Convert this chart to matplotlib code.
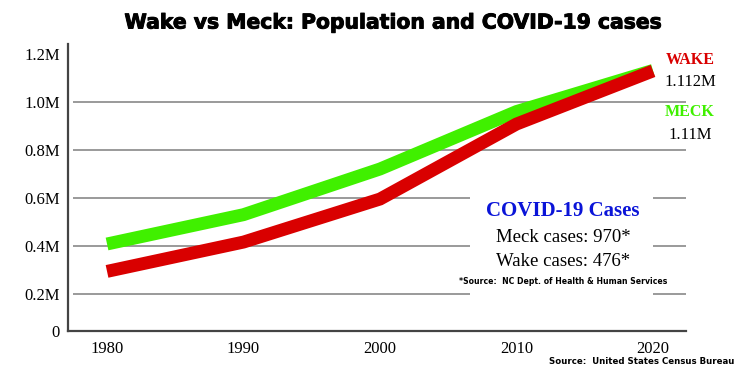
import matplotlib
matplotlib.use("Agg")
import matplotlib.pyplot as plt
from matplotlib.patches import Rectangle
import matplotlib.patheffects as pe

years = [1980, 1990, 2000, 2010, 2020]
meck = [0.408, 0.530, 0.720, 0.959, 1.130]   # millions
wake = [0.294, 0.416, 0.595, 0.907, 1.128]   # millions
grid_vals = [0.2, 0.4, 0.6, 0.8, 1.0]
ytick_vals = [0.2, 0.4, 0.6, 0.8, 1.0, 1.2]
ytick_labels = ["0.2M", "0.4M", "0.6M", "0.8M", "1.0M", "1.2M"]
xtick_labels = ["1980", "1990", "2000", "2010", "2020"]

GREEN = "#40f000"
RED = "#d90000"
BLUE = "#0a14d8"
SERIF = ["Liberation Serif", "DejaVu Serif"]
SANS = ["DejaVu Sans"]

W, H = 750, 375
fig = plt.figure(figsize=(7.5, 3.75), dpi=100)
fig.patch.set_facecolor("white")

def fx(px):
    return px / W

def fy(py):
    return 1 - py / H

ax = fig.add_axes([fx(68), fy(331), fx(686) - fx(68), fy(44) - fy(331)])
ymin, ymax = 0.046, 1.240
ax.set_xlim(1977.14, 2022.42)
ax.set_ylim(ymin, ymax)

for s in ["top", "right"]:
    ax.spines[s].set_visible(False)
for s in ["left", "bottom"]:
    ax.spines[s].set_color("#444444")
    ax.spines[s].set_linewidth(1.6)

ax.hlines(grid_vals, 1977.5, 2022.42, colors="#9a9a9a", linewidth=1.4, zorder=1)

# white box behind COVID text
ax.add_patch(Rectangle((fx(470), fy(300)), fx(653) - fx(470), fy(188) - fy(300),
                       transform=fig.transFigure, facecolor="white", edgecolor="none",
                       zorder=1.5))

ax.plot(years, meck, color=GREEN, linewidth=9.3, solid_capstyle="butt",
        solid_joinstyle="miter", zorder=3)
ax.plot(years, wake, color=RED, linewidth=9.3, solid_capstyle="butt",
        solid_joinstyle="miter", zorder=4)

ax.set_yticks([ymin] + ytick_vals)
ax.set_yticklabels(["0"] + ytick_labels, fontfamily=SERIF, fontsize=12)
ax.set_xticks(years)
ax.set_xticklabels(xtick_labels, fontfamily=SERIF, fontsize=12)
ax.tick_params(axis="both", length=0, pad=6)
ax.tick_params(axis="x", pad=7)

heavy = [pe.withStroke(linewidth=0.7, foreground="black")]
title = fig.text(fx(394), fy(23), "Wake vs Meck: Population and COVID-19 cases",
                 ha="center", va="center", fontsize=20, fontweight="heavy",
                 family=SANS, color="black", path_effects=heavy)

fig.text(fx(690), fy(60), "WAKE", ha="center", va="center", fontsize=11.5,
         fontweight="bold", family=SERIF, color=RED)
fig.text(fx(690), fy(82), "1.112M", ha="center", va="center", fontsize=12,
         family=SERIF, color="black")
fig.text(fx(690), fy(112), "MECK", ha="center", va="center", fontsize=11.5,
         fontweight="bold", family=SERIF, color=GREEN)
fig.text(fx(690), fy(135), "1.11M", ha="center", va="center", fontsize=12,
         family=SERIF, color="black")

fig.text(fx(563), fy(211), "COVID-19 Cases", ha="center", va="center",
         fontsize=15, fontweight="bold", family=SERIF, color=BLUE)
fig.text(fx(563), fy(237), "Meck cases: 970*", ha="center", va="center",
         fontsize=13.5, family=SERIF, color="black")
fig.text(fx(563), fy(261), "Wake cases: 476*", ha="center", va="center",
         fontsize=13.5, family=SERIF, color="black")
fig.text(fx(563), fy(281), "*Source:  NC Dept. of Health & Human Services",
         ha="center", va="center", fontsize=5.6, fontweight="bold",
         family=SANS, color="black")

fig.text(fx(734), fy(362), "Source:  United States Census Bureau",
         ha="right", va="center", fontsize=6.2, fontweight="bold",
         family=SANS, color="black")

# size the title so it spans the same width as in the reference
fig.canvas.draw()
renderer = fig.canvas.get_renderer()
for _ in range(2):
    w = title.get_window_extent(renderer).width
    title.set_fontsize(title.get_fontsize() * 536 / w)
    fig.canvas.draw()

fig.savefig("out.png", dpi=100, facecolor="white")
